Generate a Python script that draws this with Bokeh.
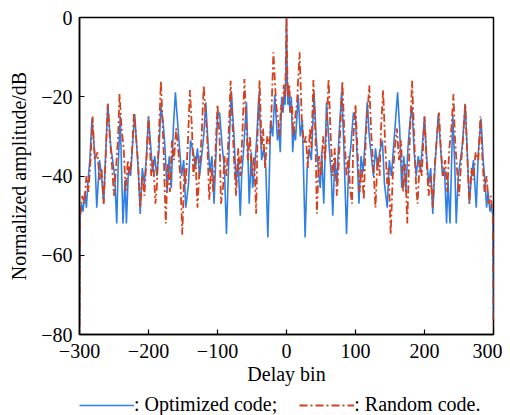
from bokeh.plotting import figure
from bokeh.layouts import column
from bokeh.models import Range1d, FixedTicker, Legend, LegendItem
from bokeh.embed import file_html
from bokeh.resources import INLINE

# Autocorrelation is symmetric: values read for delay bins 0..300, mirrored to negative bins
opt_bins = [0, 1, 2, 3, 5, 7, 9, 11, 13, 17, 20, 23, 27, 30, 33, 36, 40, 43, 46, 49,
            51, 54, 58, 62, 65, 67, 70, 73, 76, 80, 83, 87, 90, 93, 97, 100, 103, 105, 108, 111,
            114, 117, 120, 123, 126, 129, 132, 135, 139, 142, 146, 149, 152, 155, 158, 161, 164, 167, 170, 173,
            176, 179, 182, 185, 188, 191, 194, 197, 200, 203, 206, 209, 212, 215, 218, 220, 223, 226, 229, 232,
            234, 237, 241, 244, 246, 249, 252, 255, 259, 262, 265, 268, 271, 275, 278, 282, 285, 288, 290, 292,
            295, 297, 299, 300]
opt_db = [0, -15, -22, -18, -24, -20, -34, -28, -31, -19.5, -30, -26, -55.5, -38, -33, -36, -19.3, -30, -38, -43,
          -34, -47, -21.4, -33, -40, -50, -36, -42, -30, -18.5, -32, -54.6, -38, -33, -24, -25, -38, -47, -35, -39,
          -31, -21.4, -30, -35, -40, -33, -38, -34, -31, -42, -48, -36, -40, -33, -26, -18.9, -28, -43, -35, -44,
          -33, -26, -22.6, -34, -40, -35, -39, -32, -25, -35, -42, -38, -49.6, -38, -30, -24.4, -32, -40, -38, -52,
          -41, -52, -24.8, -38, -52, -40, -36, -32, -21.8, -34, -47, -40, -36, -48, -34, -25.5, -36, -42, -48, -44,
          -49, -47, -50, -76]

rnd_bins = [0, 1, 2, 4, 6, 8, 10, 12, 15, 19, 22, 25, 28, 31, 34, 36, 39, 42, 44, 47,
            50, 53, 56, 58, 61, 64, 67, 70, 73, 76, 78, 81, 84, 87, 90, 92, 95, 97, 100, 103,
            106, 109, 112, 115, 120, 123, 126, 129, 132, 135, 137, 140, 143, 146, 148, 151, 154, 157, 160, 163,
            166, 169, 172, 175, 178, 182, 185, 188, 190, 193, 196, 200, 203, 206, 209, 212, 215, 218, 221, 224,
            227, 230, 233, 236, 239, 242, 244, 247, 250, 253, 256, 259, 262, 265, 268, 271, 274, 278, 281, 284,
            287, 290, 293, 296, 299, 300]
rnd_db = [0, -12, -20, -17, -24, -22, -30, -26, -22, -8.8, -25, -32, -30, -38, -28, -33, -15.8, -30, -49.5, -35,
          -40, -30, -36, -28, -15.5, -30, -40, -33, -45, -36, -28, -16, -30, -40, -35, -43, -47, -30, -22, -34,
          -44, -38, -46, -30, -17.2, -30, -38, -48, -35, -40, -28, -18.3, -32, -42, -38, -54.8, -40, -33, -28, -36,
          -31, -44, -37, -52, -34, -16, -30, -43, -47, -36, -40, -25, -36, -45, -40, -48, -37, -30, -24, -34,
          -40, -36, -44, -33, -28, -19.3, -30, -38, -45, -37, -30, -21.8, -35, -47, -38, -41, -34, -36, -25, -36,
          -44, -40, -47, -45, -50, -78]

x_ticks = [-300, -200, -100, 0, 100, 200, 300]
y_ticks = [-80, -60, -40, -20, 0]
labels = [": Optimized code;", ": Random code."]

BLUE = "#2f7fe6"
RED = "#d4411c"
RED_DASH = "8 3 2 3"


def mirror(b, v):
    xs = [-t for t in reversed(b[1:])] + list(b)
    ys = list(reversed(v[1:])) + list(v)
    return xs, ys


ox, oy = mirror(opt_bins, opt_db)
rx, ry = mirror(rnd_bins, rnd_db)

FONT = "Liberation Serif"
p = figure(width=502, height=392, output_backend="svg", toolbar_location=None,
           x_range=Range1d(-300, 300), y_range=Range1d(-80, 0),
           min_border_left=79, min_border_right=9, min_border_top=17, min_border_bottom=58)
p.grid.visible = False
p.outline_line_color = "black"
p.outline_line_width = 1.5
p.background_fill_color = "white"
p.border_fill_color = "white"

p.line(ox, oy, line_color=BLUE, line_width=1.6)
p.line(rx, ry, line_color=RED, line_width=1.8, line_dash=RED_DASH)

for ax in (p.xaxis[0], p.yaxis[0]):
    ax.axis_line_color = "black"
    ax.axis_line_width = 1.5
    ax.major_tick_in = 5
    ax.major_tick_out = 0
    ax.major_tick_line_color = "black"
    ax.major_tick_line_width = 1.2
    ax.minor_tick_line_color = None
    ax.major_label_text_font = FONT
    ax.major_label_text_font_size = "20px"
    ax.major_label_text_color = "black"
    ax.axis_label_text_font = FONT
    ax.axis_label_text_font_size = "20px"
    ax.axis_label_text_font_style = "normal"
    ax.axis_label_text_color = "black"

p.xaxis.ticker = FixedTicker(ticks=x_ticks)
p.yaxis.ticker = FixedTicker(ticks=y_ticks)
p.xaxis.major_label_overrides = {t: str(t).replace("-", "\u2212") for t in x_ticks}
p.yaxis.major_label_overrides = {t: str(t).replace("-", "\u2212") for t in y_ticks}
p.xaxis.axis_label = "Delay bin"
p.yaxis.axis_label = "Normalized amplitude/dB"
p.xaxis.major_label_standoff = 9
p.yaxis.major_label_standoff = 7
p.xaxis.axis_label_standoff = 2
p.yaxis.axis_label_standoff = 8

# legend strip under the chart: same series drawn out of view so only the legend shows
lg = figure(width=502, height=24, output_backend="svg", toolbar_location=None,
            x_axis_location=None, y_axis_location=None,
            x_range=Range1d(-300, 300), y_range=Range1d(100, 101),
            min_border=0, outline_line_color=None)
lg.grid.visible = False
l1 = lg.line(ox, oy, line_color=BLUE, line_width=1.6)
l2 = lg.line(rx, ry, line_color=RED, line_width=1.8, line_dash=RED_DASH)
legend = Legend(items=[LegendItem(label=labels[0], renderers=[l1]),
                       LegendItem(label=labels[1], renderers=[l2])],
                orientation="horizontal", location=(0, 0),
                border_line_color=None, background_fill_alpha=0,
                glyph_width=55, glyph_height=20, spacing=22, label_standoff=0,
                padding=0, margin=0,
                label_text_font=FONT, label_text_font_size="20px", label_text_color="black")
lg.add_layout(legend, "center")

open("out.html", "w").write(file_html(column(p, lg, spacing=0), INLINE))
